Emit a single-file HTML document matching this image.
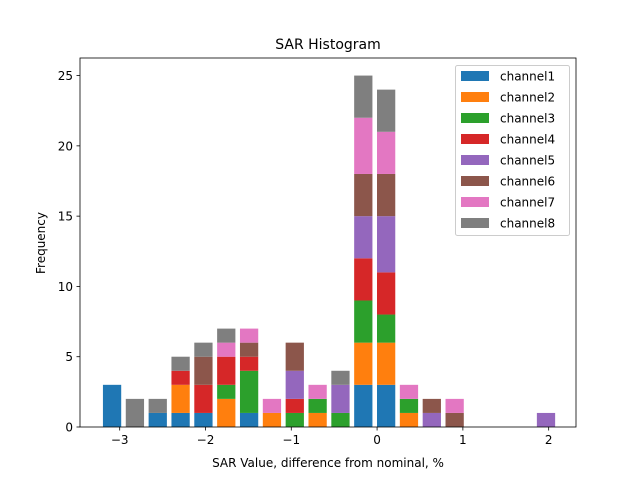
<!DOCTYPE html>
<html><head><meta charset="utf-8"><style>
body{margin:0;background:#fff}
svg text{font-family:"DejaVu Sans","Liberation Sans",sans-serif;fill:#000}
</style></head><body>
<svg id="chart" width="640" height="480" viewBox="0 0 640 480" xmlns="http://www.w3.org/2000/svg">
<rect width="640" height="480" fill="#fff"/>
<text x="328" y="49" text-anchor="middle" font-size="14">SAR Histogram</text>
<g id="bars"></g>
<g id="axes"></g>
<text x="328" y="467" text-anchor="middle" font-size="12">SAR Value, difference from nominal, %</text>
<text x="45" y="243" text-anchor="middle" font-size="12" transform="rotate(-90 45 243)">Frequency</text>
<g id="legend"></g>
</svg>
<script>
const channelNames = ["channel1","channel2","channel3","channel4","channel5","channel6","channel7","channel8"];
const ch1 = [3,0,1,1,1,0,1,0,0,0,0,3,3,0,0,0,0,0,0,0];
const ch2 = [0,0,0,2,0,2,0,1,0,1,0,3,3,1,0,0,0,0,0,0];
const ch3 = [0,0,0,0,0,1,3,0,1,1,1,3,2,1,0,0,0,0,0,0];
const ch4 = [0,0,0,1,2,2,1,0,1,0,0,3,3,0,0,0,0,0,0,0];
const ch5 = [0,0,0,0,0,0,0,0,2,0,2,3,4,0,1,0,0,0,0,1];
const ch6 = [0,0,0,0,2,0,1,0,2,0,0,3,3,0,1,1,0,0,0,0];
const ch7 = [0,0,0,0,0,1,1,1,0,1,0,4,3,1,0,1,0,0,0,0];
const ch8 = [0,2,1,1,1,1,0,0,0,0,1,3,3,0,0,0,0,0,0,0];
const binStart = -3.222;
const binWidth = 0.2662;
const xTicks = [-3,-2,-1,0,1,2];
const xTickLabels = ["\u22123","\u22122","\u22121","0","1","2"];
const yTicks = [0,5,10,15,20,25];

const series = [ch1,ch2,ch3,ch4,ch5,ch6,ch7,ch8];
const colors = ["#1f77b4","#ff7f0e","#2ca02c","#d62728","#9467bd","#8c564b","#e377c2","#7f7f7f"];
const L=80,R=576,T=58,B=427;
const xMin=-3.4627, xMax=2.3185, yMax=26.25;
const xs = v => L + (v-xMin)/(xMax-xMin)*(R-L);
const ys = v => B - v/yMax*(B-T);
const NS="http://www.w3.org/2000/svg";
function mk(tag, attrs, parent){const e=document.createElementNS(NS,tag);for(const k in attrs)e.setAttribute(k,attrs[k]);parent.appendChild(e);return e;}

const gb=document.getElementById('bars');
const nb=ch1.length;
for(let i=0;i<nb;i++){
  const c = binStart + (i+0.5)*binWidth;
  const x0 = xs(c-0.4*binWidth), x1 = xs(c+0.4*binWidth);
  let base=0;
  for(let s=0;s<series.length;s++){
    const v=series[s][i];
    if(v>0){
      const r=mk('rect',{x:x0,y:ys(base+v),width:x1-x0,height:ys(base)-ys(base+v),fill:colors[s]},gb);
      
      
    }
    base+=v;
  }
}

const ga=document.getElementById('axes');
const frame=mk('rect',{x:L,y:T,width:R-L,height:B-T,fill:'none',stroke:'#000','stroke-width':0.8},ga);


xTicks.forEach((t,i)=>{
  const x=xs(t);
  const ln=mk('line',{x1:x,x2:x,y1:B,y2:B+3.5,stroke:'#000','stroke-width':0.8},ga);
  
  
  const tx=mk('text',{x:x,y:B+17,'text-anchor':'middle','font-size':'12'},ga);
  tx.textContent=xTickLabels[i];
  
  
});
yTicks.forEach(t=>{
  const y=ys(t);
  const ln=mk('line',{x1:L-3.5,x2:L,y1:y,y2:y,stroke:'#000','stroke-width':0.8},ga);
  
  
  const tx=mk('text',{x:L-7,y:y+4.5,'text-anchor':'end','font-size':'12'},ga);
  tx.textContent=String(t);
  
  
});

const gl=document.getElementById('legend');
const box=mk('rect',{x:455.5,y:65.5,width:114,height:170,rx:2,fill:'#fff','fill-opacity':0.8,stroke:'#ccc','stroke-width':1},gl);


channelNames.forEach((n,i)=>{
  const y=76+i*21;
  const sw=mk('rect',{x:461,y:y-5,width:28,height:10,fill:colors[i]},gl);
  
  
  const tx=mk('text',{x:500,y:y+4.5,'font-size':'12'},gl);
  tx.textContent=n;
  
  
});
</script>
</body></html>
